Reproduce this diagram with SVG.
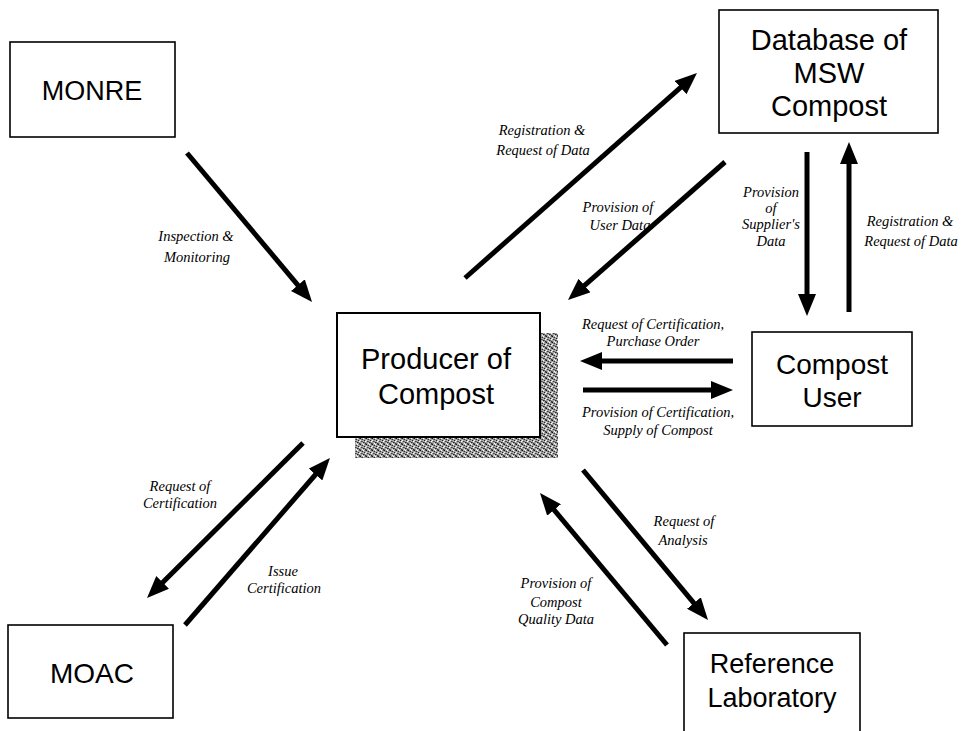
<svg xmlns="http://www.w3.org/2000/svg" width="961" height="731" viewBox="0 0 961 731">
<style>
.box{fill:#fff;stroke:#000;stroke-width:1.6}
.bt{font-family:"Liberation Sans",Arial,sans-serif;font-size:28px;fill:#000;text-anchor:middle}
.lb{font-family:"Liberation Serif","Times New Roman",serif;font-style:italic;font-size:14.5px;fill:#000;text-anchor:middle}
.ar{stroke:#000;stroke-width:5;fill:none;marker-end:url(#ah)}
</style>
<defs>
<marker id="ah" viewBox="0 0 22 18" markerWidth="22" markerHeight="18" refX="12" refY="9" orient="auto" markerUnits="userSpaceOnUse">
<path d="M0,0 L22,9 L0,18 z" fill="#000"/>
</marker>
<pattern id="dither" width="6" height="6" patternUnits="userSpaceOnUse">
<rect width="6" height="6" fill="#a8a8a8"/>
<rect x="0" y="0" width="1" height="1" fill="#111"/>
<rect x="2" y="1" width="1" height="1" fill="#333"/>
<rect x="4" y="2" width="1" height="1" fill="#222"/>
<rect x="1" y="3" width="1" height="1" fill="#444"/>
<rect x="3" y="4" width="1" height="1" fill="#222"/>
<rect x="5" y="5" width="1" height="1" fill="#333"/>
<rect x="3" y="0" width="1" height="1" fill="#fff"/>
<rect x="0" y="2" width="1" height="1" fill="#eee"/>
<rect x="5" y="3" width="1" height="1" fill="#fff"/>
<rect x="2" y="5" width="1" height="1" fill="#eee"/>
<rect x="2" y="3" width="1" height="1" fill="#666"/>
<rect x="4" y="4" width="1" height="1" fill="#555"/>
<rect x="1" y="1" width="1" height="1" fill="#777"/>
<rect x="5" y="0" width="1" height="1" fill="#555"/>
<rect x="0" y="5" width="1" height="1" fill="#666"/>
</pattern>
</defs>

<g id="connectors">
<line class="ar" x1="187" y1="153" x2="305.6" y2="294.3"/>
<line class="ar" x1="465" y1="278" x2="689.5" y2="79.6"/>
<line class="ar" x1="725" y1="162" x2="575.5" y2="293.4"/>
<line class="ar" x1="807" y1="152" x2="807" y2="306"/>
<line class="ar" x1="849" y1="312" x2="849" y2="152"/>
<line class="ar" x1="733" y1="361" x2="590" y2="361"/>
<line class="ar" x1="583" y1="390" x2="723" y2="390"/>
<line class="ar" x1="303" y1="443" x2="154.1" y2="590.9"/>
<line class="ar" x1="185" y1="625" x2="323.4" y2="465.5"/>
<line class="ar" x1="583" y1="470" x2="701.6" y2="612.3"/>
<line class="ar" x1="667" y1="645" x2="546.4" y2="500.7"/>
</g>

<g id="labels">
<text class="lb" x="196" y="241">Inspection &amp;</text>
<text class="lb" x="197" y="262">Monitoring</text>
<text class="lb" x="542" y="135">Registration &amp;</text>
<text class="lb" x="543" y="155">Request of Data</text>
<text class="lb" x="618" y="212">Provision of</text>
<text class="lb" x="620" y="230">User Data</text>
<text class="lb" x="771" y="197">Provision</text>
<text class="lb" x="771" y="213">of</text>
<text class="lb" x="771" y="229">Supplier's</text>
<text class="lb" x="771" y="246">Data</text>
<text class="lb" x="910" y="226">Registration &amp;</text>
<text class="lb" x="911" y="246">Request of Data</text>
<text class="lb" x="653" y="329">Request of Certification,</text>
<text class="lb" x="653" y="346">Purchase Order</text>
<text class="lb" x="658" y="417">Provision of Certification,</text>
<text class="lb" x="658" y="435">Supply of Compost</text>
<text class="lb" x="180" y="491">Request of</text>
<text class="lb" x="180" y="508">Certification</text>
<text class="lb" x="283" y="576">Issue</text>
<text class="lb" x="284" y="593">Certification</text>
<text class="lb" x="684" y="526">Request of</text>
<text class="lb" x="683" y="545">Analysis</text>
<text class="lb" x="556" y="588">Provision of</text>
<text class="lb" x="556" y="607">Compost</text>
<text class="lb" x="556" y="624">Quality Data</text>
</g>

<g id="monre">
<rect class="box" x="10" y="42" width="165" height="95"/>
<text class="bt" x="92" y="100" style="font-size:27px">MONRE</text>
</g>

<g id="database">
<rect class="box" x="719" y="10" width="219" height="123"/>
<text class="bt" x="829" y="50" style="font-size:29px">Database of</text>
<text class="bt" x="829" y="83" style="font-size:29px">MSW</text>
<text class="bt" x="829" y="116" style="font-size:29px">Compost</text>
</g>

<g id="producer">
<rect x="355" y="333" width="203" height="125" fill="url(#dither)"/>
<rect class="box" x="337" y="313" width="203" height="124" style="stroke-width:2"/>
<text class="bt" x="436" y="369" style="font-size:29px">Producer of</text>
<text class="bt" x="436" y="404" style="font-size:29px">Compost</text>
</g>

<g id="compost-user">
<rect class="box" x="752" y="332" width="160" height="94"/>
<text class="bt" x="832" y="374">Compost</text>
<text class="bt" x="832" y="407">User</text>
</g>

<g id="moac">
<rect class="box" x="8" y="625" width="165" height="93"/>
<text class="bt" x="92" y="683">MOAC</text>
</g>

<g id="reference-lab">
<rect class="box" x="684" y="633" width="176" height="110"/>
<text class="bt" x="772" y="673" style="font-size:27px">Reference</text>
<text class="bt" x="772" y="707" style="font-size:27px">Laboratory</text>
</g>
</svg>
